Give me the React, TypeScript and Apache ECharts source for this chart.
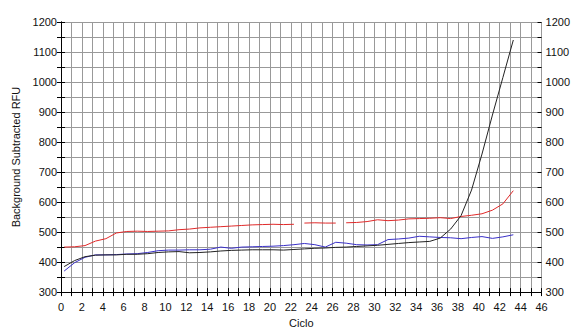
import React, { useEffect, useRef } from "react";
import * as echarts from "echarts";

const cycles = [1, 2, 3, 4, 5, 6, 7, 8, 9, 10, 11, 12, 13, 14, 15, 16, 17, 18, 19, 20, 21, 22, 23, 24, 25, 26, 27, 28, 29, 30, 31, 32, 33, 34, 35, 36, 37, 38, 39, 40, 41, 42, 43, 44];
const CYCLE_SHIFT = -0.7;

const redValues = [450, 451, 455, 470, 478, 497, 502, 503, 502, 503, 504, 508, 510, 514, 516, 518, 520, 522, 524, 525, 526, 525, 526, 530, 531, 530, 530, 531, 532, 535, 541, 538, 540, 544, 545, 546, 548, 545, 552, 556, 561, 573, 594, 638];
const redGapsAfter = [23, 27];
const blackValues = [385, 405, 418, 423, 424, 424, 426, 426, 428, 432, 434, 435, 431, 432, 434, 437, 439, 440, 441, 441, 441, 440, 442, 444, 446, 447, 449, 450, 452, 454, 456, 459, 462, 465, 467, 469, 480, 510, 555, 640, 760, 890, 1015, 1140];
const blueValues = [370, 398, 416, 424, 424, 425, 427, 428, 432, 438, 440, 440, 441, 441, 443, 450, 446, 450, 451, 452, 453, 455, 458, 462, 458, 450, 466, 463, 458, 457, 458, 475, 477, 480, 486, 484, 482, 481, 478, 482, 485, 479, 484, 491];

const yTitle = "Background Subtracted RFU";
const xTitle = "Ciclo";

function build(values: number[], gaps: number[] = []) {
  const out: any[] = [];
  cycles.forEach((c, i) => {
    out.push([c + CYCLE_SHIFT, values[i]]);
    if (gaps.includes(c)) out.push([c + CYCLE_SHIFT + 0.5, "-"]);
  });
  return out;
}

const font = "Liberation Sans, Arial, sans-serif";
const gridColor = "#999999";

export default function App() {
  const ref = useRef<HTMLDivElement>(null);
  useEffect(() => {
    if (!ref.current) return;
    const chart = echarts.init(ref.current, null, { renderer: "svg" });
    const yAxisBase = (pos: "left" | "right", inside = false) => ({
      type: "value",
      position: pos,
      min: 300,
      max: 1200,
      interval: 50,
      axisLine: { show: !inside, lineStyle: { color: "#000", width: 1 } },
      axisTick: { show: true, inside, length: 4, lineStyle: { color: "#000" } },
      axisLabel: {
        show: !inside,
        color: "#111",
        fontSize: 11,
        fontFamily: font,
        margin: 4,
        formatter: (v: number) => (v % 100 === 0 ? String(v) : ""),
      },
      splitLine: { show: pos === "left" && !inside, lineStyle: { color: gridColor, width: 1 } },
    });
    const xAxisBase = (inside = false) => ({
      type: "value",
      min: 0,
      max: 46,
      interval: 1,
      axisLine: { show: !inside, lineStyle: { color: "#000", width: 1 } },
      axisTick: { show: true, inside, length: 4, lineStyle: { color: "#000" } },
      axisLabel: {
        show: !inside,
        color: "#111",
        fontSize: 11,
        fontFamily: font,
        margin: 9,
        formatter: (v: number) => (v % 2 === 0 ? String(v) : ""),
      },
      splitLine: { show: !inside, lineStyle: { color: gridColor, width: 1 } },
    });
    chart.setOption({
      animation: false,
      backgroundColor: "#fff",
      grid: { left: 61, right: 27, top: 22, bottom: 37, containLabel: false },
      xAxis: [
        {
          ...xAxisBase(),
          name: xTitle,
          nameLocation: "middle",
          nameGap: 23,
          nameTextStyle: { color: "#111", fontSize: 11, fontFamily: font },
        },
        { ...xAxisBase(true), position: "bottom" },
      ],
      yAxis: [
        {
          ...yAxisBase("left"),
          name: yTitle,
          nameLocation: "middle",
          nameGap: 38,
          nameTextStyle: { color: "#111", fontSize: 11, fontFamily: font },
        },
        yAxisBase("right"),
        yAxisBase("left", true),
        yAxisBase("right", true),
      ],
      series: [
        {
          type: "line",
          data: build(redValues, redGapsAfter),
          showSymbol: false,
          connectNulls: false,
          lineStyle: { color: "#e02a2a", width: 1 },
          itemStyle: { color: "#e02a2a" },
        },
        {
          type: "line",
          data: build(blueValues),
          showSymbol: false,
          lineStyle: { color: "#3a30c8", width: 1 },
          itemStyle: { color: "#3a30c8" },
        },
        {
          type: "line",
          data: build(blackValues),
          showSymbol: false,
          lineStyle: { color: "#222", width: 1 },
          itemStyle: { color: "#222" },
        },
      ],
    });
    return () => chart.dispose();
  }, []);
  return (
    <div
      ref={ref}
      style={{ position: "fixed", left: 0, top: 0, width: 573, height: 333 }}
    />
  );
}
